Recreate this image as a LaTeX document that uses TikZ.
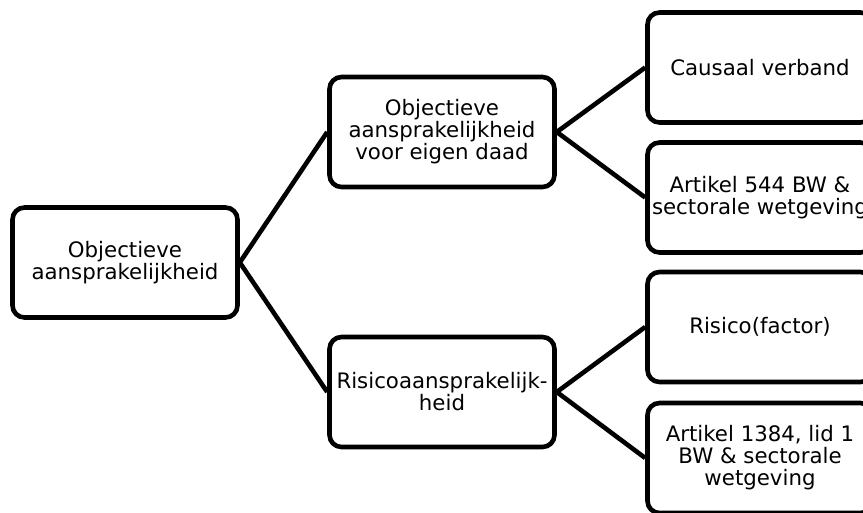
\documentclass[tikz,border=0pt]{standalone}
\usepackage{fontspec}
\setmainfont{DejaVu Sans}
\begin{document}
\begin{tikzpicture}[x=1pt,y=-1pt,
  box/.style={draw=black, line width=4.6pt, rounded corners=12pt, fill=white,
    minimum width=225pt, minimum height=110pt, align=center, inner sep=2pt,
    font=\fontsize{21.3pt}{22pt}\selectfont},
  conn/.style={line width=4.6pt}]
\useasboundingbox (0,0) rectangle (863,512);
\clip (0,0) rectangle (863,512);
\node[box] (root) at (125,262.5) {Objectieve\\aansprakelijkheid};
\node[box] (m1) at (442,132) {Objectieve\\aansprakelijkheid\\voor eigen daad};
\node[box] (m2) at (442,392) {Risicoaansprakelijk-\\heid};
\node[box] (r1) at (760,67.5) {Causaal verband};
\node[box] (r2) at (760,197.5) {Artikel 544 BW \&\\sectorale wetgeving};
\node[box] (r3) at (760,327) {Risico(factor)};
\node[box] (r4) at (760,458) {Artikel 1384, lid 1\\BW \& sectorale\\wetgeving};
\draw[conn] (root.east) -- (m1.west);
\draw[conn] (root.east) -- (m2.west);
\draw[conn] (m1.east) -- (r1.west);
\draw[conn] (m1.east) -- (r2.west);
\draw[conn] (m2.east) -- (r3.west);
\draw[conn] (m2.east) -- (r4.west);
\end{tikzpicture}
\end{document}
